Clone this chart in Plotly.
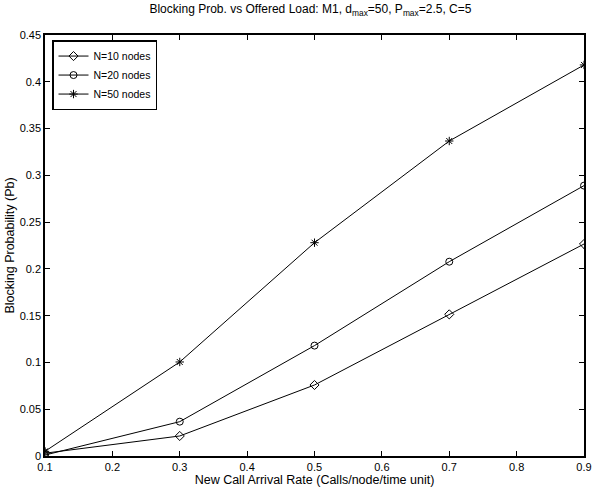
import plotly.graph_objects as go

x_rate = [0.1, 0.3, 0.5, 0.7, 0.9]
pb_n10 = [0.003, 0.0214, 0.0759, 0.1514, 0.2266]
pb_n20 = [0.001, 0.0367, 0.118, 0.2077, 0.289]
pb_n50 = [0.005, 0.1005, 0.228, 0.3367, 0.418]
series_names = ["N=10 nodes", "N=20 nodes", "N=50 nodes"]
symbols = ["diamond-open", "circle-open", "asterisk-open"]

fig = go.Figure()
for name, ys, sym in zip(series_names, [pb_n10, pb_n20, pb_n50], symbols):
    fig.add_trace(go.Scatter(
        x=x_rate, y=ys, name=name, mode="lines+markers",
        line=dict(color="black", width=1),
        marker=dict(symbol=sym, size=7, color="black", line=dict(color="black", width=1)),
    ))

font = "Liberation Sans, Arial, sans-serif"
fig.update_layout(
    width=597, height=498,
    paper_bgcolor="white", plot_bgcolor="white",
    margin=dict(l=45, r=13, t=35, b=42),
    font=dict(family=font, size=11, color="black"),
    title=dict(text="Blocking Prob. vs Offered Load: M1, d<sub>max</sub>=50, P<sub>max</sub>=2.5, C=5",
               x=0.52, xanchor="center", y=0.99, yanchor="top",
               font=dict(family=font, size=12, color="black")),
    showlegend=True,
    legend=dict(x=0.013, y=0.988, xanchor="left", yanchor="top",
                bordercolor="black", borderwidth=1.5, bgcolor="white",
                font=dict(family=font, size=10.5, color="black"),
                tracegroupgap=0, itemwidth=30),
)
fig.update_xaxes(
    range=[0.1, 0.9], tickmode="array",
    tickvals=[0.1, 0.2, 0.3, 0.4, 0.5, 0.6, 0.7, 0.8, 0.9],
    ticktext=["0.1", "0.2", "0.3", "0.4", "0.5", "0.6", "0.7", "0.8", "0.9"],
    ticks="inside", ticklen=5, tickcolor="black", mirror="ticks", automargin=False,
    showline=True, linecolor="black", linewidth=1.5, showgrid=False, zeroline=False,
    title=dict(text="New Call Arrival Rate (Calls/node/time unit)", standoff=2,
               font=dict(family=font, size=12.5, color="black")),
    tickfont=dict(size=11),
)
fig.update_yaxes(
    range=[0, 0.45], tickmode="array",
    tickvals=[0, 0.05, 0.1, 0.15, 0.2, 0.25, 0.3, 0.35, 0.4, 0.45],
    ticktext=["0", "0.05", "0.1", "0.15", "0.2", "0.25", "0.3", "0.35", "0.4", "0.45"],
    ticks="inside", ticklen=5, tickcolor="black", mirror="ticks", automargin=False,
    showline=True, linecolor="black", linewidth=1.5, showgrid=False, zeroline=False,
    title=dict(text="Blocking Probability (Pb)", standoff=2,
               font=dict(family=font, size=12.5, color="black")),
    tickfont=dict(size=11),
)

# remove the browser's default 8px body margin so the figure sits at the page corner
fig.write_html("out.html", config={"displayModeBar": False},
               post_script="document.body.style.margin='0';")
